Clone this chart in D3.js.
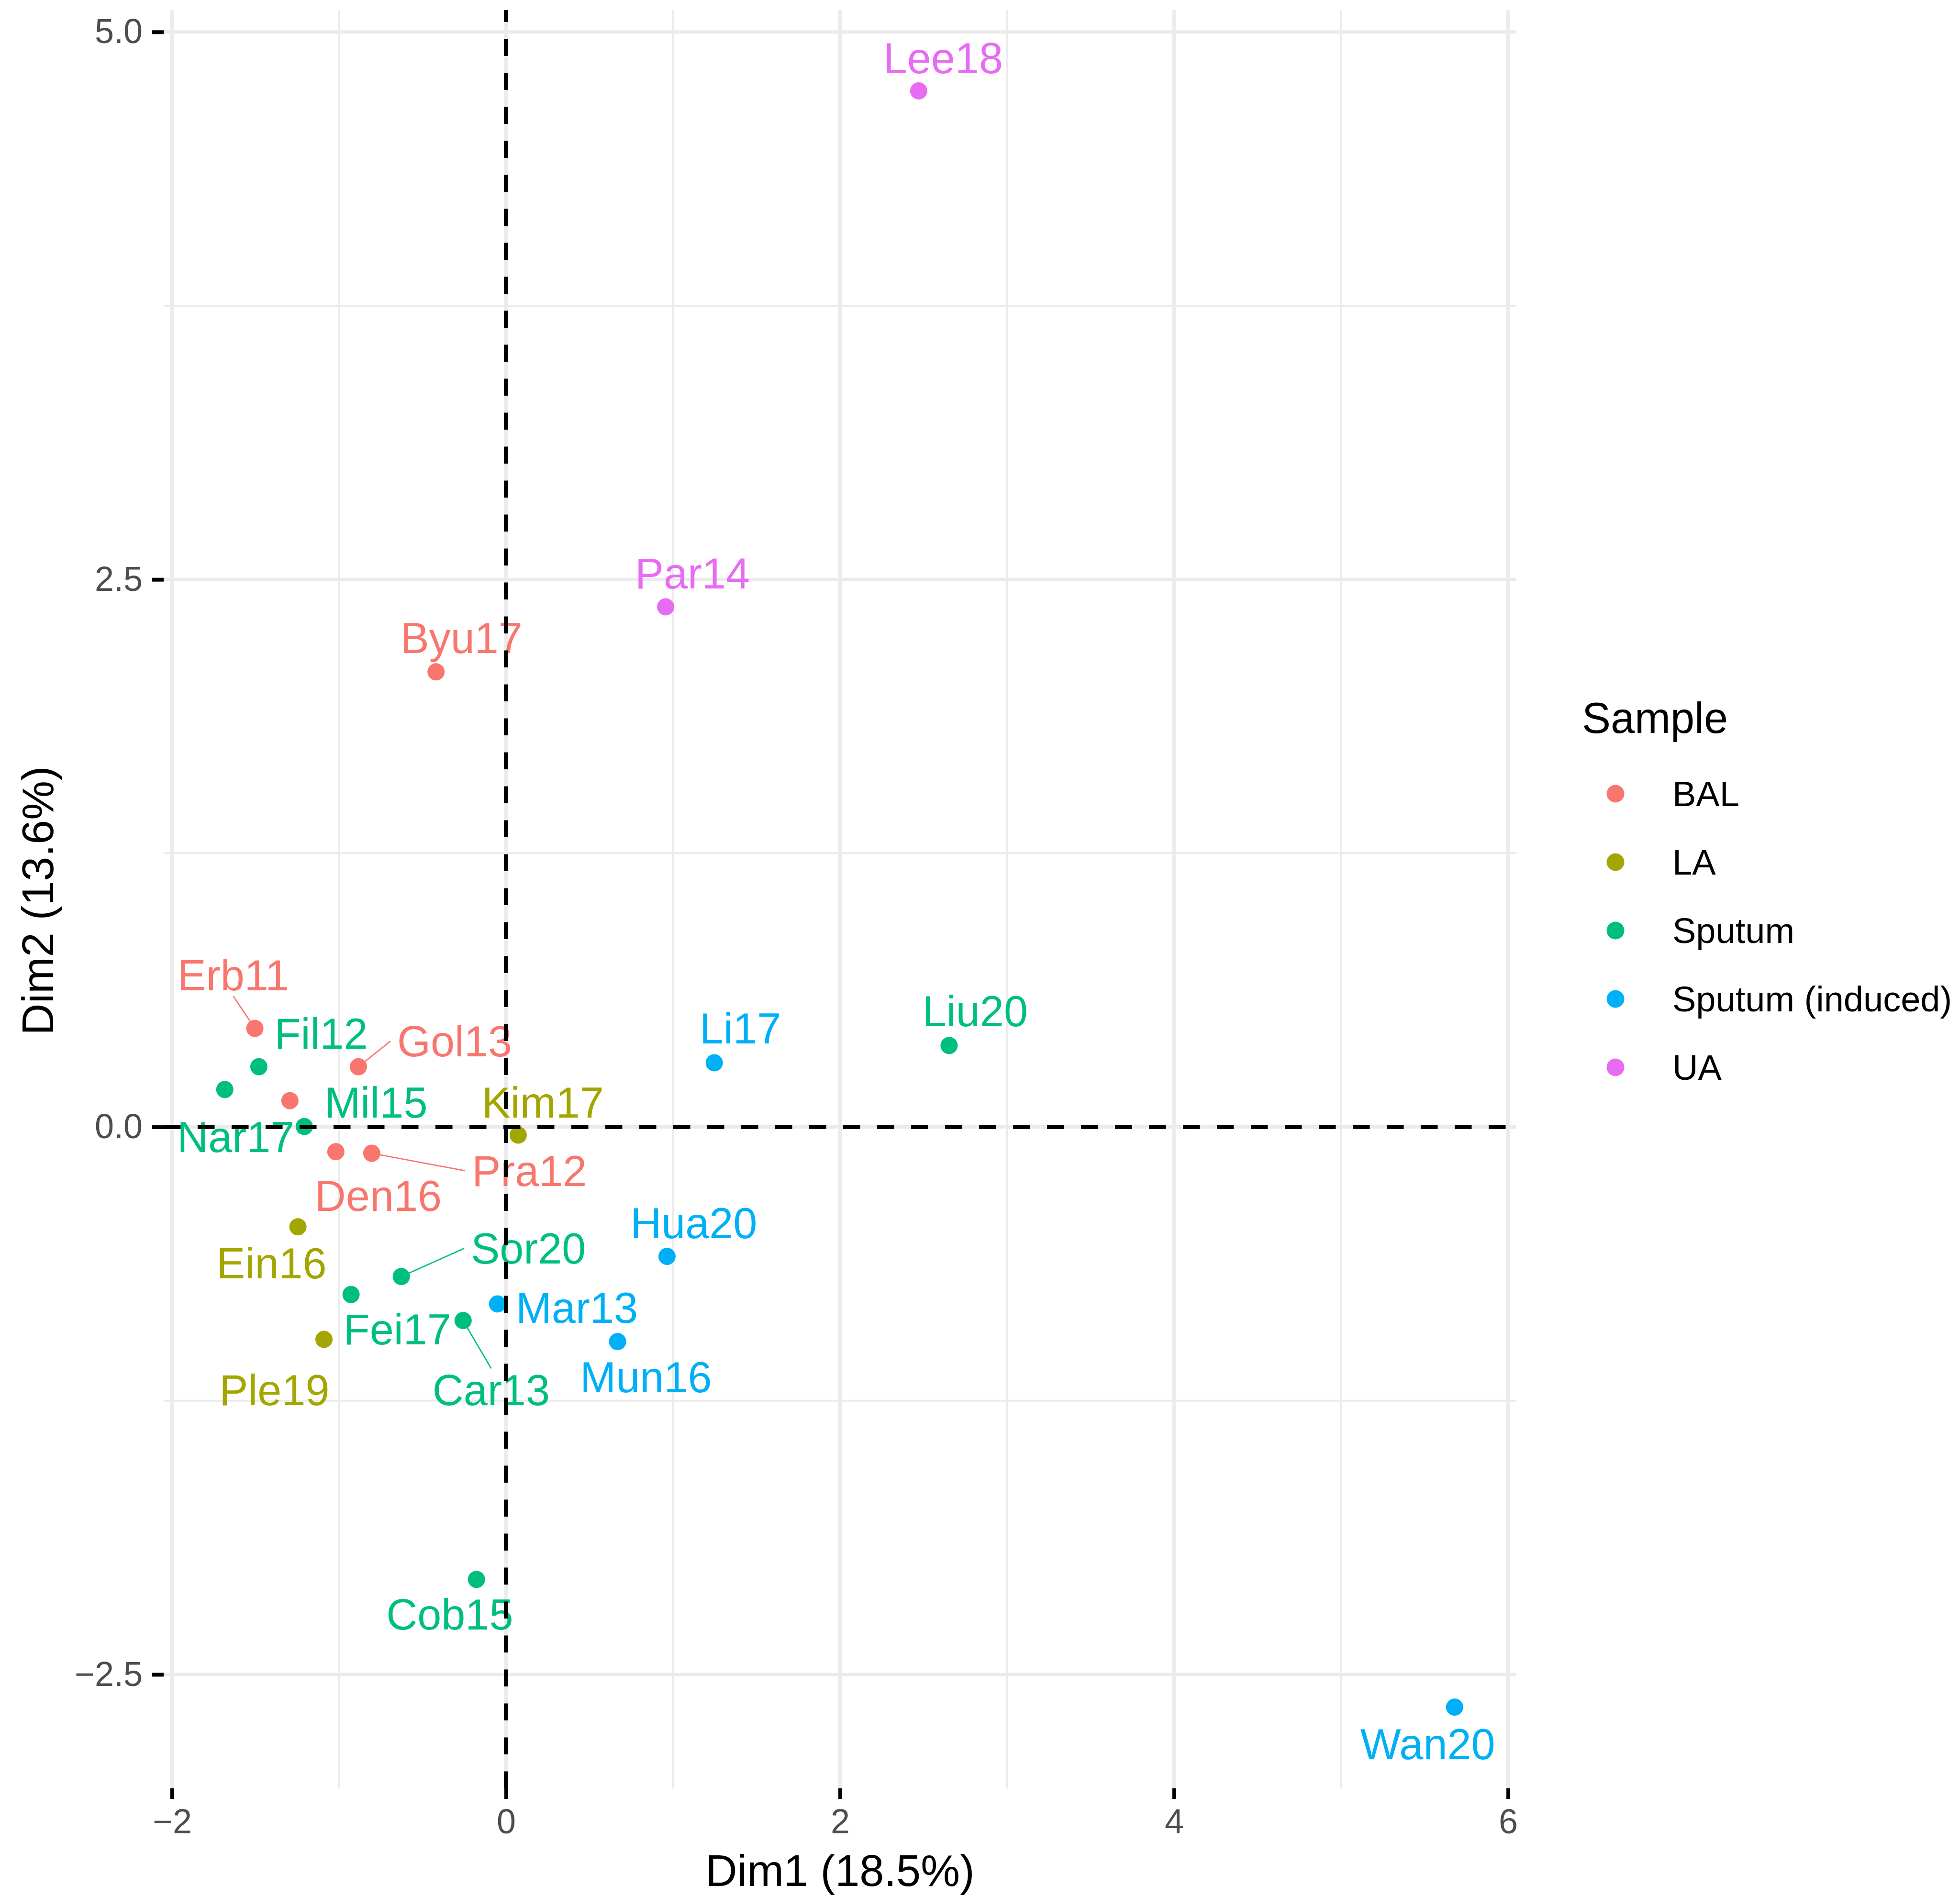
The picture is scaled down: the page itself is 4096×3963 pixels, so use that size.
<!DOCTYPE html>
<html>
<head>
<meta charset="utf-8">
<script src="https://cdnjs.cloudflare.com/ajax/libs/d3/7.8.5/d3.min.js"></script>
<style>
  body { margin: 0; background: #ffffff; }
  text { font-family: "Liberation Sans", Arial, Helvetica, sans-serif; }
</style>
</head>
<body>
<div id="scatter"></div>
<script>
// sample names (empty = point without label), groups, coordinates
var names = ["Lee18", "Par14", "Byu17", "Erb11", "Fil12", "Nar17", "", "Gol13", "Mil15", "Kim17", "Den16", "Pra12",
    "Ein16", "Sor20", "Fei17", "Car13", "Mar13", "Ple19", "Mun16", "Hua20", "Li17", "Liu20", "Cob15", "Wan20"];
var groups = ["UA", "UA", "BAL", "BAL", "Sputum", "Sputum", "BAL", "BAL", "Sputum", "LA", "BAL", "BAL",
    "LA", "Sputum", "Sputum", "Sputum", "Sputum (induced)", "LA", "Sputum (induced)", "Sputum (induced)",
    "Sputum (induced)", "Sputum", "Sputum", "Sputum (induced)"];
var dim1 = [2.471, 0.956, -0.419, -1.504, -1.480, -1.684, -1.294, -0.884, -1.208, 0.073, -1.019, -0.804,
    -1.246, -0.627, -0.928, -0.257, -0.051, -1.090, 0.668, 0.964, 1.247, 2.653, -0.177, 5.680];
var dim2 = [4.731, 2.375, 2.078, 0.450, 0.275, 0.171, 0.120, 0.275, 0.002, -0.037, -0.113, -0.120,
    -0.456, -0.683, -0.765, -0.884, -0.808, -0.970, -0.980, -0.591, 0.293, 0.372, -2.066, -2.649];

// repelled label positions (data units) and which labels get a segment
var labelDim1 = [2.617, 1.116, -0.267, -1.633, -1.107, -1.618, null, -0.308, -0.778, 0.220, -0.765, 0.140,
    -1.404, 0.134, -0.651, -0.089, 0.424, -1.387, 0.838, 1.124, 1.403, 2.809, -0.337, 5.519];
var labelDim2 = [4.881, 2.529, 2.235, 0.694, 0.428, -0.044, null, 0.392, 0.114, 0.114, -0.313, -0.200,
    -0.620, -0.554, -0.923, -1.199, -0.823, -1.199, -1.141, -0.437, 0.451, 0.530, -2.224, -2.817];
var segmentNames = ["Erb11", "Gol13", "Pra12", "Sor20", "Car13"];

// legend categories and axis ticks
var categories = ["BAL", "LA", "Sputum", "Sputum (induced)", "UA"];
var categoryColors = ["#F8766D", "#A3A500", "#00BF7D", "#00B0F6", "#E76BF3"];
var xMajor = [-2, 0, 2, 4, 6];
var xMinor = [-1, 1, 3, 5];
var yMajor = [-2.5, 0, 2.5, 5];
var yMinor = [-1.25, 1.25, 3.75];

var svgWidth = 4096;
var svgHeight = 3963;

var panel = { left: 342, right: 3169, top: 21, bottom: 3738 };

var svg = d3.select("#scatter")
    .append("svg")
    .attr("width", svgWidth)
    .attr("height", svgHeight);

svg.append("rect")
    .attr("width", svgWidth)
    .attr("height", svgHeight)
    .attr("fill", "#ffffff");

var points = names.map(function (n, i) {
    return {
        name: n, group: groups[i], x: dim1[i], y: dim2[i],
        lx: labelDim1[i], ly: labelDim2[i]
    };
});

// scales
var xScale = d3.scaleLinear()
    .domain([-2.05, 6.05])
    .range([panel.left, panel.right]);

var yScale = d3.scaleLinear()
    .domain([-3.02, 5.10])
    .range([panel.bottom, panel.top]);

var color = d3.scaleOrdinal()
    .domain(categories)
    .range(categoryColors);

var minus = function (v) { return String(v).replace("-", "\u2212"); };

// grid
var grid = svg.append("g");

grid.selectAll(".xminor").data(xMinor).enter().append("line")
    .attr("x1", d => xScale(d)).attr("x2", d => xScale(d))
    .attr("y1", panel.top).attr("y2", panel.bottom)
    .attr("stroke", "#ebebeb").attr("stroke-width", 4);

grid.selectAll(".yminor").data(yMinor).enter().append("line")
    .attr("y1", d => yScale(d)).attr("y2", d => yScale(d))
    .attr("x1", panel.left).attr("x2", panel.right)
    .attr("stroke", "#ebebeb").attr("stroke-width", 4);

grid.selectAll(".xmajor").data(xMajor).enter().append("line")
    .attr("x1", d => xScale(d)).attr("x2", d => xScale(d))
    .attr("y1", panel.top).attr("y2", panel.bottom)
    .attr("stroke", "#ebebeb").attr("stroke-width", 7);

grid.selectAll(".ymajor").data(yMajor).enter().append("line")
    .attr("y1", d => yScale(d)).attr("y2", d => yScale(d))
    .attr("x1", panel.left).attr("x2", panel.right)
    .attr("stroke", "#ebebeb").attr("stroke-width", 7);

// axes
var bottomAxis = d3.axisBottom(xScale)
    .tickValues(xMajor)
    .tickFormat(d => minus(d))
    .tickSizeInner(22)
    .tickSizeOuter(0)
    .tickPadding(21);

var leftAxis = d3.axisLeft(yScale)
    .tickValues(yMajor)
    .tickFormat(d => minus(d3.format(".1f")(d)))
    .tickSizeInner(24)
    .tickSizeOuter(0)
    .tickPadding(20);

var xAxisG = svg.append("g")
    .attr("transform", `translate(0, ${panel.bottom})`)
    .call(bottomAxis);

var yAxisG = svg.append("g")
    .attr("transform", `translate(${panel.left}, 0)`)
    .call(leftAxis);

[xAxisG, yAxisG].forEach(function (g) {
    g.select(".domain").remove();
    g.selectAll(".tick line").attr("stroke", "#000000").attr("stroke-width", 8);
    g.selectAll(".tick text")
        .attr("fill", "#4d4d4d")
        .style("font-size", "72px");
});

// points
svg.append("g").selectAll("circle")
    .data(points)
    .enter()
    .append("circle")
    .attr("cx", d => xScale(d.x))
    .attr("cy", d => yScale(d.y))
    .attr("r", 18)
    .attr("fill", d => color(d.group));

// labels
var fontSize = 90;
var capHalf = fontSize * 0.358;
var labelled = points.filter(d => d.name !== "");

var segG = svg.append("g");
var labelG = svg.append("g");

labelled.forEach(function (d) {
    var cx = xScale(d.lx);
    var cy = yScale(d.ly);
    var t = labelG.append("text")
        .attr("x", cx)
        .attr("y", cy + capHalf)
        .attr("text-anchor", "middle")
        .attr("fill", color(d.group))
        .style("font-size", fontSize + "px")
        .text(d.name);

    if (segmentNames.indexOf(d.name) >= 0) {
        // connect to the closest edge midpoint of the label box
        var hw = t.node().getComputedTextLength() / 2 + 14;
        var hh = capHalf + 12;
        var px = xScale(d.x), py = yScale(d.y);
        var cands = [[cx - hw, cy], [cx + hw, cy], [cx, cy - hh], [cx, cy + hh]];
        var best = d3.least(cands, c => Math.hypot(c[0] - px, c[1] - py));
        segG.append("line")
            .attr("x1", px).attr("y1", py)
            .attr("x2", best[0]).attr("y2", best[1])
            .attr("stroke", color(d.group))
            .attr("stroke-width", 2.7);
    }
});

// dashed reference lines at 0
svg.append("line")
    .attr("x1", panel.left).attr("x2", panel.right)
    .attr("y1", yScale(0)).attr("y2", yScale(0))
    .attr("stroke", "#000000").attr("stroke-width", 9)
    .attr("stroke-dasharray", "35.5,35.5");

svg.append("line")
    .attr("x1", xScale(0)).attr("x2", xScale(0))
    .attr("y1", panel.bottom).attr("y2", panel.top)
    .attr("stroke", "#000000").attr("stroke-width", 9)
    .attr("stroke-dasharray", "35.5,35.5");

// axis titles
svg.append("text")
    .attr("x", (panel.left + panel.right) / 2)
    .attr("y", 3942)
    .attr("text-anchor", "middle")
    .attr("fill", "#000000")
    .style("font-size", "92px")
    .text("Dim1 (18.5%)");

svg.append("text")
    .attr("transform", `translate(111, ${(panel.top + panel.bottom) / 2 + 3}) rotate(-90)`)
    .attr("text-anchor", "middle")
    .attr("fill", "#000000")
    .style("font-size", "92px")
    .text("Dim2 (13.6%)");

// legend
var legend = svg.append("g");

legend.append("text")
    .attr("x", 3306)
    .attr("y", 1532)
    .attr("fill", "#000000")
    .style("font-size", "90px")
    .text("Sample");

var legendY = d3.scalePoint()
    .domain(categories)
    .range([1659, 2231]);

legend.selectAll("circle")
    .data(categories)
    .enter()
    .append("circle")
    .attr("cx", 3376)
    .attr("cy", d => legendY(d))
    .attr("r", 18.5)
    .attr("fill", d => color(d));

legend.selectAll(".ltext")
    .data(categories)
    .enter()
    .append("text")
    .attr("x", 3495)
    .attr("y", d => legendY(d) + 74 * 0.358)
    .attr("fill", "#000000")
    .style("font-size", "74px")
    .text(d => d);
</script>
</body>
</html>
